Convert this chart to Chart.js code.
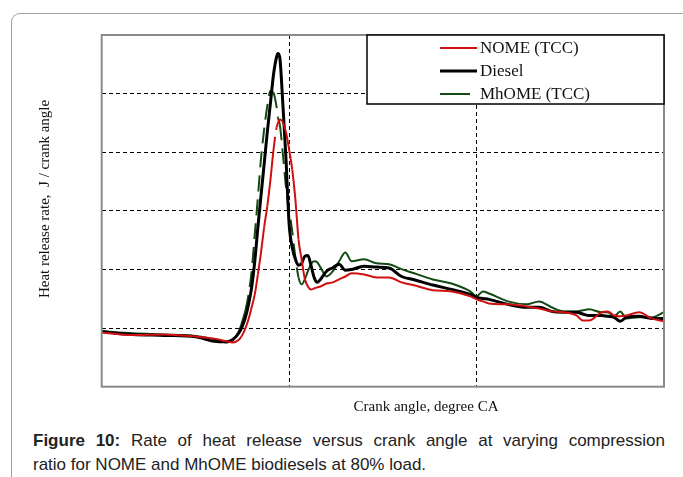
<!DOCTYPE html>
<html>
<head>
<meta charset="utf-8">
<script src="https://cdn.jsdelivr.net/npm/chart.js@4/dist/chart.umd.min.js"></script>
<style>
  html, body { margin: 0; padding: 0; background: #fff; }
  body { width: 683px; height: 477px; position: relative; overflow: hidden; }
  #frame {
    position: absolute; left: 11px; top: 13px; width: 700px; height: 500px;
    border-top: 1.5px solid #a0a0a0; border-left: 1.5px solid #a0a0a0;
    border-top-left-radius: 9px; box-sizing: border-box;
  }
  #wrap { position: absolute; left: 0; top: 0; width: 683px; height: 420px; }
  .cap {
    position: absolute; left: 33px; width: 632px;
    font-family: "Liberation Sans", Arial, sans-serif; font-size: 17px; color: #222;
    white-space: nowrap;
  }
  #cap1 { top: 431px; text-align: justify; text-align-last: justify; white-space: normal; }
  #cap2 { top: 455px; }
</style>
</head>
<body>
<div id="frame"></div>
<div id="wrap"><canvas id="c" width="683" height="420"></canvas></div>
<div class="cap" id="cap1"><b>Figure 10:</b> Rate of heat release versus crank angle at varying compression</div>
<div class="cap" id="cap2">ratio for NOME and MhOME biodiesels at 80% load.</div>
<script>
// Crank angle (deg) sample points shared by all three traces
const crankAngle = [-30, -25, -20, -15, -12, -10, -9, -8, -7.5, -7, -6.5, -6, -5.5, -5, -4.5, -4, -3.5, -3, -2.5, -2, -1.8, -1.5, -1, -0.5,
  0, 0.5, 1, 1.5, 2, 2.5, 3, 3.5, 4, 4.5, 5, 6, 7, 8, 9, 10, 12, 14, 16, 18, 20, 23, 26, 29, 30, 31, 32, 35, 38, 40, 42, 44, 46, 47, 48, 50, 51, 52, 53, 54, 56, 58, 60];

// Heat release rate, J / crank angle
const nomeTCC = [-1.5, -2.4, -2.2, -2.9, -3.6, -4.5, -4.9, -3.9, -2.4, -0.1, 3.0, 7.1, 11.5, 18.3, 25.8, 34.4, 41.5, 50.4, 60.8, 68.5, 69.9, 71.2, 70.2, 66.8,
  60.9, 54.1, 43.9, 30.3, 23.4, 16.9, 14.2, 13.2, 13.5, 13.9, 14.2, 15.2, 15.6, 16.6, 17.6, 18.7, 18.3, 17.3, 17.3, 15.6, 14.6, 12.9, 12.5, 10.8, 9.8, 9.1, 8.4, 8.1, 7.4, 6.7, 5.7, 5.4, 4.3, 2.6, 2.6, 5.4, 5.7, 4.3, 4.0, 4.3, 5.4, 3.3, 2.3];

const diesel = [-1.2, -2.2, -2.5, -3.0, -4.5, -4.7, -3.9, -1.5, 0.6, 3.7, 8.1, 13.9, 22.8, 34.4, 45.3, 55.9, 66.8, 76.6, 86.5, 92.6, 93.7, 92.3, 76.3, 57.6,
  35.4, 27.5, 23.5, 21.4, 22.1, 24.5, 24.8, 21.4, 17.3, 15.6, 16.6, 19.4, 20.6, 21.8, 19.7, 20.0, 21.1, 20.8, 20.5, 17.6, 16.5, 14.7, 13.2, 11.5, 10.5, 10.1, 9.8, 8.1, 7.1, 7.1, 5.7, 5.4, 5.4, 4.8, 4.3, 4.3, 4.0, 3.7, 2.3, 3.7, 4.0, 3.3, 3.3];

const mhomeTCC = [-1.1, -1.8, -2.2, -2.7, -3.8, -4.9, -4.2, -0.8, 2.3, 6.0, 11.5, 19.4, 32.0, 44.6, 57.9, 67.8, 75.7, 81.0, 80.3, 75.3, 71.9, 69.5, 59.3, 48.0,
  40.4, 33.0, 24.1, 17.3, 14.9, 16.6, 19.4, 21.8, 22.8, 22.5, 20.8, 17.6, 19.4, 22.8, 25.8, 22.8, 23.5, 22.1, 21.8, 20.1, 18.7, 16.6, 15.2, 12.5, 10.8, 12.5, 11.8, 9.1, 8.1, 9.1, 7.1, 5.7, 5.7, 6.1, 6.4, 5.4, 5.4, 4.0, 5.7, 3.3, 3.7, 3.7, 5.4];

const seriesLabels = ['NOME (TCC)', 'Diesel', 'MhOME (TCC)'];

const xMin = -30, xMax = 60, xStep = 30;
const yMin = -20, yMax = 100, yStep = 20;

function pts(vals) { return crankAngle.map((a, i) => ({ x: a, y: vals[i] })); }

// steep stretches of a trace are drawn broken, as in the printed plot
function steepDash(pattern, limit) {
  return ctx => {
    const dx = Math.abs(ctx.p1.x - ctx.p0.x) || 0.001;
    const dy = Math.abs(ctx.p1.y - ctx.p0.y);
    return dy / dx > limit ? pattern : undefined;
  };
}

const serif = '"Liberation Serif", "Times New Roman", serif';

const frameAndLegend = {
  id: 'frameAndLegend',
  afterDraw(chart) {
    const { ctx, chartArea: a } = chart;
    ctx.save();
    // plot border
    ctx.strokeStyle = '#8a8a8a';
    ctx.lineWidth = 2;
    ctx.strokeRect(a.left, a.top, a.right - a.left, a.bottom - a.top);

    // legend box in the upper right corner
    const bx = 367, bw = a.right - 367, bh = 69;
    ctx.fillStyle = '#fff';
    ctx.fillRect(bx, a.top, bw, bh);
    ctx.strokeStyle = '#000';
    ctx.lineWidth = 1.5;
    ctx.strokeRect(bx, a.top, bw, bh);
    ctx.font = '17px ' + serif;
    ctx.textBaseline = 'middle';
    chart.data.datasets.forEach((ds, i) => {
      const y = a.top + 13 + i * 23;
      ctx.strokeStyle = ds.borderColor;
      ctx.lineWidth = ds.borderWidth;
      ctx.beginPath();
      ctx.moveTo(440, y);
      ctx.lineTo(i === 2 ? 470 : 477, y);
      ctx.stroke();
      ctx.fillStyle = '#111';
      ctx.fillText(ds.label, 480, y + 1);
    });

    // axis titles
    ctx.textAlign = 'center';
    ctx.font = '15px ' + serif;
    ctx.fillStyle = '#111';
    ctx.fillText('Crank angle, degree CA', 426, a.bottom + 20);
    ctx.translate(45, 199);
    ctx.rotate(-Math.PI / 2);
    ctx.fillText('Heat release rate,  J / crank angle', 0, 0);
    ctx.restore();
  }
};

new Chart(document.getElementById('c'), {
  type: 'line',
  data: {
    datasets: [
      { label: seriesLabels[0], data: pts(nomeTCC), borderColor: '#d01010', borderWidth: 2,
        segment: { borderDash: steepDash([70, 7], 7) } },
      { label: seriesLabels[1], data: pts(diesel), borderColor: '#000000', borderWidth: 3 },
      { label: seriesLabels[2], data: pts(mhomeTCC), borderColor: '#124a12', borderWidth: 2,
        segment: { borderDash: steepDash([16, 8], 4) } }
    ]
  },
  options: {
    responsive: false,
    animation: false,
    elements: { point: { radius: 0 }, line: { tension: 0.35, cubicInterpolationMode: 'monotone' } },
    layout: { padding: { left: 0, top: 35, right: 19, bottom: 0 } },
    plugins: { legend: { display: false }, tooltip: { enabled: false } },
    scales: {
      x: {
        type: 'linear', min: xMin, max: xMax,
        ticks: { display: false, stepSize: xStep },
        grid: { color: '#000', lineWidth: 1, drawTicks: false },
        border: { display: false, dash: [4, 3] },
        afterFit(s) { s.height = 33.3; }
      },
      y: {
        min: yMin, max: yMax,
        ticks: { display: false, stepSize: yStep },
        grid: { color: '#000', lineWidth: 1, drawTicks: false },
        border: { display: false, dash: [4, 3] },
        afterFit(s) { s.width = 101.7; }
      }
    }
  },
  plugins: [frameAndLegend]
});
</script>
</body>
</html>
